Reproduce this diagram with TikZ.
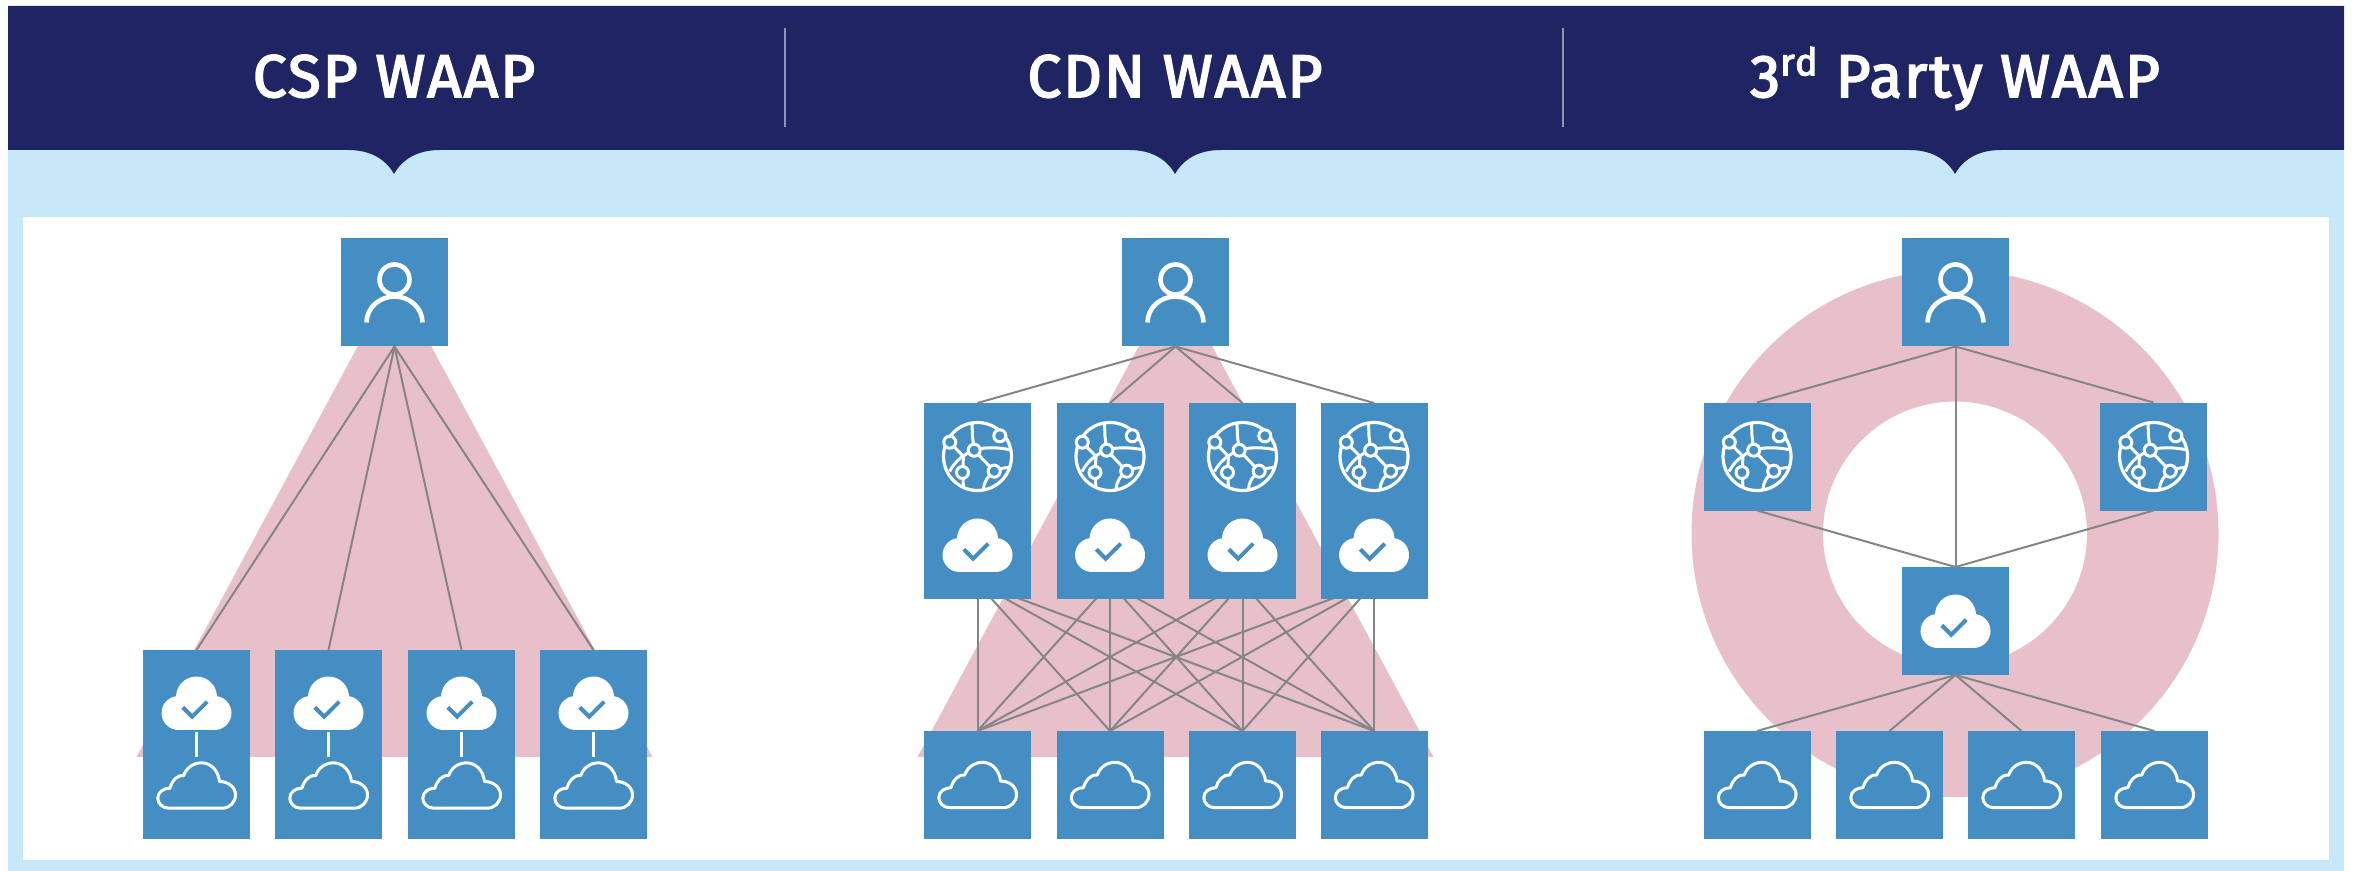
\documentclass[tikz,border=0pt]{standalone}
\usepackage{fontspec}
\setmainfont{Fira Sans}
\newfontfamily\hfont[FakeBold=3,LetterSpace=3.5]{Fira Sans}
\definecolor{navy}{HTML}{1F2563}
\definecolor{pale}{HTML}{C7E8F9}
\definecolor{boxblue}{HTML}{448EC3}
\definecolor{pinkish}{HTML}{E8C0CA}
\definecolor{wire}{HTML}{858585}
\definecolor{divider}{HTML}{8F93B5}
\tikzset{
  px/.style={x=0.5pt,y=-0.5pt},
  box/.style={fill=boxblue,inner sep=0pt,outer sep=0pt,minimum width=53.5pt},
  squarebox/.style={box,minimum height=54pt},
  tallbox/.style={box,minimum height=98pt},
  lowbox/.style={box,minimum height=94.5pt},
  hdr/.style={anchor=base,text=white,font=\hfont\fontsize{30}{32}\selectfont,inner sep=0pt},
  wireline/.style={draw=wire,line width=1pt},
  iconline/.style={draw=white,line width=1.5pt},
  pics/solidcloud/.style={code={
    \fill[white] (0,-6.5) circle[radius=20.5];
    \fill[white] (-18,9.5) circle[radius=17];
    \fill[white] (18,9.5) circle[radius=17];
    \fill[white] (-18,-3) rectangle (18,26.5);
    \draw[boxblue,line width=2pt] (-13.7,3.8) -- (-4.3,13.2) -- (10.7,-1.8);
  }},
  pics/linecloud/.style={code={
    \draw[iconline,line join=round] (-27.7,22.7) .. controls (-34,22.7) and (-38.7,18) .. (-38.7,12.7)
      .. controls (-38.7,6.5) and (-33,2.7) .. (-26.7,2.7)
      .. controls (-24.5,-4.5) and (-20,-10.5) .. (-12.7,-10)
      .. controls (-10.5,-17.5) and (-3,-22.7) .. (5,-22.7)
      .. controls (15,-22.7) and (22,-14) .. (23,-4)
      .. controls (32,-4) and (39,2) .. (39,9.3)
      .. controls (39,17) and (33,22.7) .. (25.7,22.7) -- cycle;
  }},
  pics/person/.style={code={
    \draw[white,line width=2.3pt] (0,-14) circle[radius=15];
    \draw[white,line width=2.3pt] (-28,29) .. controls (-28,14.7) and (-15.4,3) .. (0,3)
      .. controls (15.4,3) and (28,14.7) .. (28,29);
  }},
  pics/globe/.style={code={
    \draw[iconline,line width=1.6pt] (0,0) circle[radius=34];
    \draw[iconline] (-27.7,-14.3) -- (-14,0) -- (-15,16);
    \draw[iconline] (-28,15) .. controls (-22,4) and (-14,-2) .. (-3.3,-6.3);
    \draw[iconline] (-3.3,-6.3) -- (-5,-20) -- (-5.5,-33);
    \draw[iconline] (-3.3,-6.3) .. controls (8,-10) and (22,-9) .. (34,-6.5);
    \draw[iconline] (-3.3,-6.3) -- (16.7,14.7);
    \draw[iconline] (16.7,14.7) .. controls (10,20) and (6,26) .. (6,33);
    \draw[iconline] (16.7,14.7) -- (24,12) -- (33,10.5);
    \draw[iconline] (-15,16) -- (-14,31);
    \foreach \p in {(-27.7,-14.3),(22.3,-20.7),(-3.3,-6.3),(-15,16),(16.7,14.7)}
      \draw[iconline,fill=boxblue] \p circle[radius=6];
  }}
}
\begin{document}
\begin{tikzpicture}[px]
\useasboundingbox (0,0) rectangle (2354,871);
\fill[white] (0,0) rectangle (2354,871);
% panels
\fill[pale] (8,100) rectangle (2344,871);
\fill[white] (23,217) rectangle (2329,860);
% pink shapes
\fill[pinkish] (394.5,278) -- (652.5,757) -- (136.5,757) -- cycle;
\fill[pinkish] (1175.5,278) -- (1433.5,757) -- (917.5,757) -- cycle;
\fill[pinkish,even odd rule] (1955,533.5) circle[radius=263.5] (1955,533.5) circle[radius=132];
% header
\fill[navy] (8,6) -- (2344,6) -- (2344,150)
  -- (2001,150) .. controls (1980,150) and (1964,158) .. (1955,174) .. controls (1946,158) and (1930,150) .. (1909,150)
  -- (1221,150) .. controls (1200,150) and (1184,158) .. (1175,174) .. controls (1166,158) and (1150,150) .. (1129,150)
  -- (440,150) .. controls (419,150) and (403,158) .. (394,174) .. controls (385,158) and (369,150) .. (348,150)
  -- (8,150) -- cycle;
\coordinate (d1a) at (785,28); \coordinate (d1b) at (785,127);
\coordinate (d2a) at (1563,28); \coordinate (d2b) at (1563,127);
\draw[divider,line width=0.6pt] (d1a) -- (d1b);
\draw[divider,line width=0.6pt] (d2a) -- (d2b);
\node[hdr] (t1) at (394,97) {CSP WAAP};
\node[hdr] (t2) at (1175,97) {CDN WAAP};
\node[hdr] (t3) at (1955,97) {3\raisebox{0.36em}{\fontsize{19}{19}\selectfont rd} Party WAAP};
% lower boxes and the hidden hubs of the mesh, then the mesh under the tall boxes
\foreach \i/\x in {1/977.5,2/1110,3/1242.5,4/1374}{
  \node[squarebox] (c\i) at (\x,785) {};
  \coordinate (h\i) at (\x,583);
}
\foreach \i in {1,2,3,4}
  \foreach \j in {1,2,3,4}
    \draw[wireline] (h\i) -- (c\j.north);
% boxes
\node[squarebox] (u1) at (394.5,292.5) {};
\node[squarebox] (u2) at (1175.5,292.5) {};
\node[squarebox] (u3) at (1955.5,292.5) {};
\foreach \i/\x in {1/196.5,2/328.5,3/461.5,4/593.5}
  \node[lowbox] (a\i) at (\x,744.5) {};
\foreach \i/\x in {1/977.5,2/1110,3/1242.5,4/1374}
  \node[tallbox] (b\i) at (\x,501) {};
\node[squarebox] (m1) at (1757,456.5) {};
\node[squarebox] (m2) at (2153.5,456.5) {};
\node[squarebox] (w) at (1955.5,621) {};
\foreach \i/\x in {1/1757,2/1889.5,3/2021.5,4/2154.5}
  \node[squarebox] (e\i) at (\x,785) {};
% connectors
\foreach \i in {1,2,3,4}{
  \draw[wireline] (u1.south) -- (a\i.north);
  \draw[wireline] (u2.south) -- (b\i.north);
  \draw[wireline] (w.south) -- (e\i.north);
}
\draw[wireline] (u3.south) -- (m1.north);
\draw[wireline] (u3.south) -- (m2.north);
\draw[wireline] (u3.south) -- (w.north);
\draw[wireline] (m1.south) -- (w.north);
\draw[wireline] (m2.south) -- (w.north);
% icons
\foreach \x in {394.5,1175.5,1955.5}
  \pic at (\x,293.5) {person};
\foreach \x in {196.5,328.5,461.5,593.5}{
  \pic at (\x,703.5) {solidcloud};
  \pic at (\x,785.5) {linecloud};
  \draw[iconline] (\x,732) -- (\x,757);
}
\foreach \x in {977.5,1110,1242.5,1374}{
  \pic at (\x,456.5) {globe};
  \pic at (\x,545.5) {solidcloud};
  \pic at (\x,785) {linecloud};
}
\pic at (1757,456.5) {globe};
\pic at (2153.5,456.5) {globe};
\pic at (1955.5,621.5) {solidcloud};
\foreach \x in {1757,1889.5,2021.5,2154.5}
  \pic at (\x,785) {linecloud};
\end{tikzpicture}
\end{document}
